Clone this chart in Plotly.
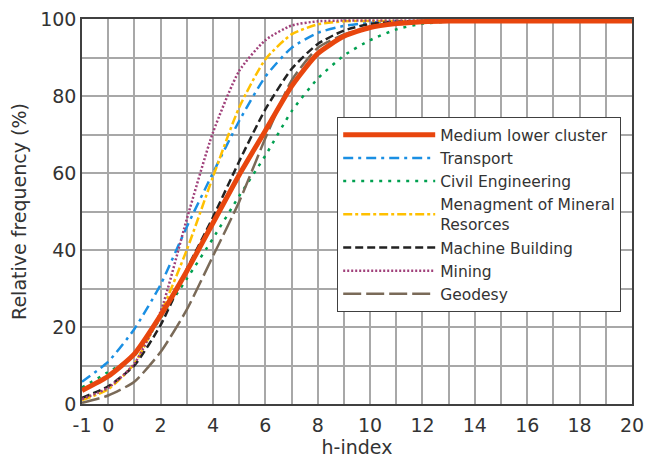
import plotly.graph_objects as go

h_index = list(range(-1, 21))

medium = [3.5, 7.2, 13, 23, 34.5, 47, 59.5, 71, 82.5, 91, 95.5, 97.8, 98.8, 99.3, 99.5, 99.5, 99.5, 99.5, 99.5, 99.5, 99.5, 99.5]
transport = [5.8, 11, 19.5, 31, 46, 60, 73.5, 85, 92.5, 96.4, 98.2, 99, 99.4, 99.5, 99.5, 99.5, 99.5, 99.5, 99.5, 99.5, 99.5, 99.5]
civil = [4.3, 8.3, 12.5, 22.3, 32.5, 43, 54, 64.5, 76, 84.5, 90.5, 94.5, 97.3, 98.8, 99.3, 99.5, 99.5, 99.5, 99.5, 99.5, 99.5, 99.5]
mineral = [1, 3.8, 10.5, 23.5, 40, 59, 77, 89.5, 96, 98.6, 99.4, 99.5, 99.5, 99.5, 99.5, 99.5, 99.5, 99.5, 99.5, 99.5, 99.5, 99.5]
machine = [1.6, 4.6, 10, 20.5, 35, 48.5, 63, 76.5, 87, 93.5, 97, 98.7, 99.3, 99.5, 99.5, 99.5, 99.5, 99.5, 99.5, 99.5, 99.5, 99.5]
mining = [1.3, 4.2, 10.5, 24, 48, 70.5, 86.5, 94.5, 98.3, 99.4, 99.6, 99.6, 99.6, 99.6, 99.6, 99.6, 99.6, 99.6, 99.6, 99.6, 99.6, 99.6]
geodesy = [0.3, 2.2, 5.8, 13.5, 24.5, 38.4, 52.5, 69, 84, 92.5, 96, 98, 99, 99.4, 99.5, 99.5, 99.5, 99.5, 99.5, 99.5, 99.5, 99.5]

x_tick_vals = list(range(-1, 21))
x_tick_text = ["-1", "0", "", "2", "", "4", "", "6", "", "8", "", "10", "", "12", "", "14", "", "16", "", "18", "", "20"]
y_tick_vals = list(range(0, 101, 10))
y_tick_text = ["0", "", "20", "", "40", "", "60", "", "80", "", "100"]

series = [
    ("Medium lower cluster", medium, "#E8460E", 5, "solid"),
    ("Transport", transport, "#1A8FE3", 2.5, "10px,5px,3px,5px"),
    ("Civil Engineering", civil, "#00A050", 2.5, "3px,6px"),
    ("Menagment of Mineral<br>Resorces", mineral, "#FFC000", 2.5, "9px,3px,3px,3px"),
    ("Machine Building", machine, "#222222", 2.5, "8px,4px"),
    ("Mining", mining, "#A0407A", 2.5, "2px,2px"),
    ("Geodesy", geodesy, "#7A6A58", 2.5, "18px,5px"),
]

fig = go.Figure()
names = [s[0] for s in series]
order = series[1:] + series[:1]
for name, vals, color, width, dash in order:
    fig.add_trace(go.Scatter(
        x=h_index, y=vals, mode="lines", name=name,
        line=dict(color=color, width=width, dash=dash, shape="spline", smoothing=0.6),
        legendrank=names.index(name) + 1,
    ))

axis_font = dict(family="DejaVu Sans", size=19, color="#333333")
fig.update_layout(
    width=654, height=460,
    margin=dict(l=74, r=30, t=11, b=64),
    paper_bgcolor="white", plot_bgcolor="white",
    font=dict(family="DejaVu Sans", color="#333333"),
    xaxis=dict(
        range=[-1, 20], tickmode="array", tickvals=x_tick_vals, ticktext=x_tick_text,
        showgrid=True, gridcolor="#A8A8A8", gridwidth=1.5,
        showline=True, linecolor="#404040", linewidth=1.5, mirror=True,
        ticks="", tickfont=axis_font, zeroline=False, automargin=False,
        ticklabeloverflow="allow", ticklabelstandoff=3,
        title=dict(text="h-index", font=axis_font, standoff=5),
    ),
    yaxis=dict(
        range=[0, 100], tickmode="array", tickvals=y_tick_vals, ticktext=y_tick_text,
        showgrid=True, gridcolor="#A8A8A8", gridwidth=1.5,
        showline=True, linecolor="#404040", linewidth=1.5, mirror=True,
        ticks="", tickfont=axis_font, zeroline=False, automargin=False,
        ticklabeloverflow="allow",
        title=dict(text="Relative frequency (%)", font=axis_font, standoff=10),
    ),
    legend=dict(
        x=0.464, y=0.745, xanchor="left", yanchor="top",
        bgcolor="white", bordercolor="#404040", borderwidth=1,
        font=dict(family="DejaVu Sans", size=15.5, color="#333333"),
        itemwidth=92, tracegroupgap=0,
    ),
    showlegend=True,
)

fig.write_html("out.html")
